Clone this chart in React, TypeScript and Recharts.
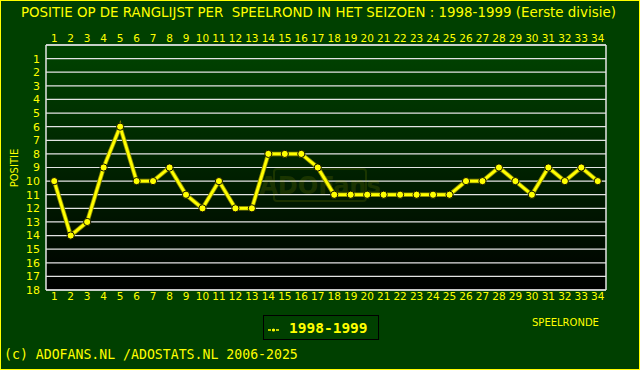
import { CartesianGrid, Line, LineChart, XAxis, YAxis } from 'recharts'

const rounds = [
  1, 2, 3, 4, 5, 6, 7, 8, 9, 10, 11, 12, 13, 14, 15, 16, 17, 18, 19, 20, 21, 22, 23, 24, 25, 26, 27,
  28, 29, 30, 31, 32, 33, 34,
]
const positions = [
  10, 14, 13, 9, 6, 10, 10, 9, 11, 12, 10, 12, 12, 8, 8, 8, 9, 11, 11, 11, 11, 11, 11, 11, 11, 10, 10,
  9, 10, 11, 9, 10, 9, 10,
]
const positionTicks = [1, 2, 3, 4, 5, 6, 7, 8, 9, 10, 11, 12, 13, 14, 15, 16, 17, 18]
const seasonLabel = '1998-1999'
const title = 'POSITIE OP DE RANGLIJST PER  SPEELROND IN HET SEIZOEN : 1998-1999 (Eerste divisie)'
const footer = '(c) ADOFANS.NL /ADOSTATS.NL 2006-2025'

const YELLOW = '#ffff00'
const BG = '#004000'
const GRID = '#e4e4e4'
const FONT = '"DejaVu Sans", Verdana, sans-serif'
const MONO = '"DejaVu Sans Mono", "Liberation Mono", monospace'

const data = rounds.map((round, i) => ({ round, position: positions[i] }))

const tickStyle = { fill: YELLOW, fontSize: 10.5, fontFamily: FONT }
const yTickStyle = { fill: YELLOW, fontSize: 11, fontFamily: FONT }

export default function App() {
  return (
    <div
      style={{
        position: 'absolute',
        left: 0,
        top: 0,
        width: 640,
        height: 370,
        background: BG,
        overflow: 'hidden',
      }}
    >
      <div
        style={{
          position: 'absolute',
          left: 21,
          top: 4,
          color: YELLOW,
          fontFamily: FONT,
          fontSize: 13.4,
          whiteSpace: 'pre',
          lineHeight: '18px',
        }}
      >
        {title}
      </div>

      <LineChart
        width={640}
        height={370}
        data={data}
        margin={{ top: 25, right: 0, bottom: 60, left: 0 }}
        style={{ position: 'absolute', left: 0, top: 0 }}
      >
        <defs>
          <linearGradient id="plot-bg" x1="0" y1="0" x2="0" y2="1">
            <stop offset="0%" stopColor="#004400" />
            <stop offset="100%" stopColor="#000000" />
          </linearGradient>
        </defs>
        <CartesianGrid vertical={false} stroke={GRID} strokeWidth={1.2} fill="url(#plot-bg)" fillOpacity={1} />
        {/* faint site watermark behind the line */}
        <g opacity={0.13}>
          <rect x={274} y={169} width={92} height={32} fill="none" stroke="#c8c800" strokeWidth={2} rx={3} />
          <text
            x={320}
            y={194}
            textAnchor="middle"
            fontFamily={FONT}
            fontWeight="bold"
            fontSize={24}
            fill="#c8c800"
          >
            ADOFans
          </text>
        </g>
        <XAxis
          dataKey="round"
          type="number"
          domain={[0.5, 34.5]}
          ticks={rounds}
          interval={0}
          height={20}
          tickSize={0}
          tickMargin={3}
          tickLine={false}
          axisLine={{ stroke: GRID, strokeWidth: 1.5 }}
          tick={tickStyle}
        />
        <XAxis
          xAxisId="top"
          orientation="top"
          dataKey="round"
          type="number"
          domain={[0.5, 34.5]}
          ticks={rounds}
          interval={0}
          height={20}
          tickSize={0}
          tickMargin={3}
          tickLine={false}
          axisLine={{ stroke: GRID, strokeWidth: 1.5 }}
          tick={tickStyle}
        />
        <YAxis
          type="number"
          domain={[0, 18]}
          reversed
          ticks={positionTicks}
          interval={0}
          width={46}
          tickSize={0}
          tickMargin={6}
          tickLine={false}
          axisLine={{ stroke: GRID, strokeWidth: 1.5 }}
          tick={yTickStyle}
        />
        <YAxis
          yAxisId="right"
          orientation="right"
          type="number"
          domain={[0, 18]}
          reversed
          ticks={positionTicks}
          interval={0}
          width={34}
          tickSize={0}
          tickMargin={3}
          tickLine={false}
          axisLine={{ stroke: GRID, strokeWidth: 1.5 }}
          tick={{ ...yTickStyle, textAnchor: 'start' }}
        />
        <Line
          type="linear"
          dataKey="position"
          stroke="#8c8c00"
          strokeWidth={4.5}
          dot={false}
          activeDot={false}
          isAnimationActive={false}
        />
        <Line
          type="linear"
          dataKey="position"
          stroke={YELLOW}
          strokeWidth={2.8}
          dot={{ r: 3.6, fill: YELLOW, stroke: '#101000', strokeWidth: 1 }}
          activeDot={false}
          isAnimationActive={false}
        />
      </LineChart>

      <div
        style={{
          position: 'absolute',
          left: 14,
          top: 168,
          transform: 'translate(-50%, -50%) rotate(-90deg)',
          color: YELLOW,
          fontFamily: FONT,
          fontSize: 10,
          whiteSpace: 'nowrap',
        }}
      >
        POSITIE
      </div>

      <div
        style={{
          position: 'absolute',
          left: 263,
          top: 315,
          width: 114,
          height: 23,
          border: '1px solid #000',
          display: 'flex',
          alignItems: 'center',
          color: YELLOW,
        }}
      >
        <svg width={25} height={23} style={{ flex: 'none' }}>
          <line x1={4} y1={14} x2={15} y2={14} stroke={YELLOW} strokeWidth={1.5} strokeDasharray="3 1" />
          <circle cx={9.5} cy={14} r={1.5} fill={YELLOW} />
        </svg>
        <span style={{ fontFamily: MONO, fontWeight: 'bold', fontSize: 14.5 }}>{seasonLabel}</span>
      </div>

      <div
        style={{
          position: 'absolute',
          left: 532,
          top: 317,
          color: YELLOW,
          fontFamily: FONT,
          fontSize: 10,
          whiteSpace: 'nowrap',
        }}
      >
        SPEELRONDE
      </div>

      <div
        style={{
          position: 'absolute',
          left: 4,
          top: 346,
          color: YELLOW,
          fontFamily: MONO,
          fontSize: 13.2,
          whiteSpace: 'pre',
          lineHeight: '18px',
        }}
      >
        {footer}
      </div>

      <div
        style={{
          position: 'absolute',
          left: 0,
          top: 0,
          width: 640,
          height: 370,
          boxSizing: 'border-box',
          border: `1px solid ${YELLOW}`,
          pointerEvents: 'none',
        }}
      />
    </div>
  )
}
